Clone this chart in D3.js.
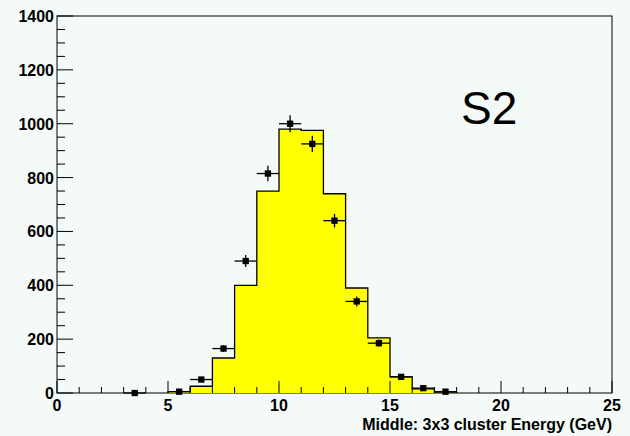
<!DOCTYPE html>
<html><head><meta charset="utf-8">
<script src="https://cdn.jsdelivr.net/npm/d3@7"></script>
<style>body{margin:0;background:#f4faf7}svg{display:block}</style>
</head><body><svg id="c" width="630" height="436"></svg>
<script>
// histogram bins (low edges) and contents
const binEdges = [5, 6, 7, 8, 9, 10, 11, 12, 13, 14, 15, 16, 17, 18];
const binValues = [5, 25, 130, 400, 750, 980, 975, 740, 390, 205, 60, 15, 3];
// data points
const pointX = [3.5, 5.5, 6.5, 7.5, 8.5, 9.5, 10.5, 11.5, 12.5, 13.5, 14.5, 15.5, 16.5, 17.5];
const pointY = [0, 5, 50, 165, 490, 815, 1000, 925, 640, 340, 185, 60, 18, 5];
const xTicks = [0, 5, 10, 15, 20, 25];
const yTicks = [0, 200, 400, 600, 800, 1000, 1200, 1400];

const m = { l: 57, r: 612, t: 16, b: 393 };
const svg = d3.select("#c");
const x = d3.scaleLinear().domain([0, 25]).range([m.l, m.r]);
const y = d3.scaleLinear().domain([0, 1400]).range([m.b, m.t]);

svg.append("rect").attr("x", m.l).attr("y", m.t).attr("width", m.r - m.l).attr("height", m.b - m.t)
  .attr("fill", "#f4faf7").attr("stroke", "#000");

// step histogram
let pts = [[x(binEdges[0]), y(0)]];
binValues.forEach((v, i) => { pts.push([x(binEdges[i]), y(v)]); pts.push([x(binEdges[i + 1]), y(v)]); });
pts.push([x(binEdges[binEdges.length - 1]), y(0)]);
svg.append("path").attr("d", d3.line()(pts)).attr("fill", "#ffff00").attr("stroke", "#000").attr("stroke-width", 1.3);

// axes
const font = "Liberation Sans, Arial, sans-serif";
const gx = svg.append("g").attr("stroke", "#000");
d3.range(0, 25.01, 1).forEach(t => {
  const major = t % 5 === 0;
  gx.append("line").attr("x1", x(t)).attr("x2", x(t)).attr("y1", m.b).attr("y2", m.b - (major ? 12 : 6));
});
d3.range(0, 1401, 50).forEach(t => {
  const major = t % 200 === 0;
  gx.append("line").attr("y1", y(t)).attr("y2", y(t)).attr("x1", m.l).attr("x2", m.l + (major ? 16 : 8));
});
svg.selectAll(".xl").data(xTicks).join("text").attr("x", d => x(d)).attr("y", m.b + 18)
  .attr("text-anchor", "middle").attr("font-family", font).attr("font-weight", "bold").attr("font-size", 16).text(d => d);
svg.selectAll(".yl").data(yTicks).join("text").attr("x", m.l - 3).attr("y", d => y(d) + 6)
  .attr("text-anchor", "end").attr("font-family", font).attr("font-weight", "bold").attr("font-size", 16).text(d => d);
svg.append("text").attr("x", m.r).attr("y", 430).attr("text-anchor", "end").attr("font-family", font)
  .attr("font-weight", "bold").attr("font-size", 16).text("Middle: 3x3 cluster Energy (GeV)");
svg.append("text").attr("x", 461).attr("y", 124).attr("font-family", font).attr("font-size", 46).text("S2");

// data points with errors
const g = svg.append("g").attr("stroke", "#000").attr("stroke-width", 1.3);
pointX.forEach((px, i) => {
  const v = pointY[i], e = Math.sqrt(v);
  g.append("line").attr("x1", x(px - 0.5)).attr("x2", x(px + 0.5)).attr("y1", y(v)).attr("y2", y(v));
  if (e > 0) g.append("line").attr("x1", x(px)).attr("x2", x(px)).attr("y1", y(v + e)).attr("y2", y(Math.max(0, v - e)));
  g.append("rect").attr("x", x(px) - 2.5).attr("y", y(v) - 2.5).attr("width", 5).attr("height", 5).attr("fill", "#000");
});
</script></body></html>
